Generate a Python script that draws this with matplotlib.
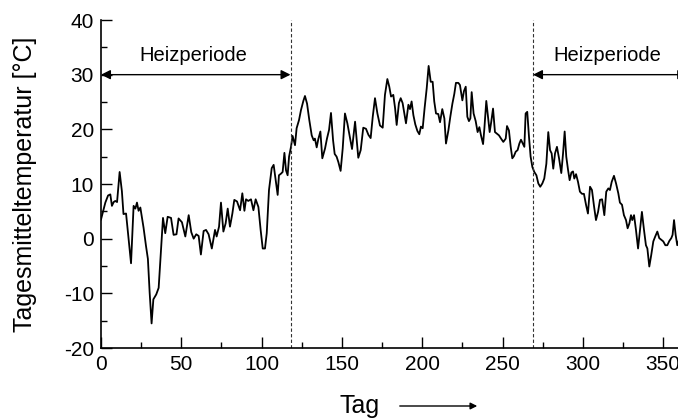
import matplotlib
matplotlib.use("Agg")
import matplotlib.pyplot as plt
from matplotlib.ticker import MultipleLocator

plt.rcParams['font.family'] = ['Liberation Sans', 'DejaVu Sans']
plt.rcParams['axes.unicode_minus'] = False

tag = [0, 2.7, 4.4, 5.8, 6.8, 7.9, 8.9, 10, 11.6, 13, 14, 15.6, 17, 18.7, 20.3, 21.4, 22.4, 23.4, 24.5,
       26.5, 28, 29.2, 30.3, 31.5, 32.6, 34.4, 35.9, 37.5, 38.6, 40, 41.5, 43.6, 45.2, 47, 48.3, 50.4,
       52.5, 54.6, 56.2, 57.7, 59.3, 60.8, 62.2, 63.9, 65.4, 67, 69, 71, 72, 73.5, 74.7, 76.2, 77.6,
       78.9, 80.3, 81.8, 83, 84.7, 86.6, 88, 89.3, 90.3, 91.7, 93.4, 94.9, 96.3, 98, 99.4, 100.7, 102.1,
       103.2, 104.6, 106.3, 107.5, 108.8, 110, 110.8, 112.1, 113.1, 114.2, 115.2, 116.2, 117.1, 118.3,
       119.3, 120.8, 121.8, 123.3, 124.5, 126, 127, 128.3, 129.7, 131.2, 132.4, 133.2, 134.3, 135.3,
       136.6, 137.8, 139.5, 140.7, 142, 143.2, 144.5, 145.5, 146.7, 147.8, 149.2, 150.5, 151.9, 153.4,
       155.1, 156.3, 158.2, 160.2, 161.7, 163.3, 165, 166.5, 167.9, 169.2, 170.6, 172.1, 173.7, 175.4,
       176.8, 178.3, 179.5, 180.6, 182, 183.1, 184.1, 185.5, 186.6, 187.8, 188.7, 189.9, 191.4, 192.4,
       193.4, 194.5, 195.7, 197, 198.2, 199.2, 200.3, 201.5, 202.8, 204, 205.3, 206.5, 207.5, 208.6,
       210, 211.1, 212.5, 213.8, 214.8, 216.3, 217.5, 218.8, 220, 221, 222.5, 223.5, 225, 226, 227.1,
       228.1, 229.1, 230, 230.8, 232, 233.3, 234.5, 235.6, 236.6, 237.9, 238.7, 239.9, 241, 242, 243,
       244.1, 245.3, 246.6, 247.8, 249.1, 250.5, 252, 252.8, 254, 255.1, 256.1, 257.1, 258.2, 259.4,
       260.5, 261.5, 262.5, 263.6, 264.4, 265.4, 266.5, 267.5, 268.6, 269.8, 271.1, 272.3, 273.5,
       274.8, 276, 277.3, 278.5, 279.6, 280.6, 281.6, 282.7, 283.9, 285.2, 286.6, 287.7, 288.7, 289.7,
       290.8, 291.8, 292.9, 293.9, 294.7, 295.8, 297, 298.2, 299.5, 300.7, 302, 303.2, 304.5, 305.7,
       307, 308.2, 309.5, 310.7, 312, 313.4, 314.6, 315.9, 316.9, 318, 319.4, 320.7, 322.1, 323.1,
       324.4, 325.6, 326.9, 327.9, 329, 330, 330.8, 331.9, 333.1, 334.4, 335.6, 336.8, 338.1, 339.3,
       340.2, 341.4, 342.6, 343.9, 345.1, 346.4, 347.6, 348.9, 350.1, 351.4, 352.6, 353.9, 355.1,
       355.9, 356.8, 357.8, 358.8, 359.7]

temp = [3.5, 6.6, 7.9, 8.1, 6.0, 6.7, 6.9, 6.7, 12.2, 8.7, 4.5, 4.6, 0.5, -4.5, 6.0, 5.5, 6.6, 5.1, 5.7,
        2.0, -1.3, -3.7, -9.9, -15.5, -11.1, -10.2, -9.0, -1.3, 3.8, 1.0, 4.0, 3.8, 0.7, 0.8, 3.7, 3.0,
        0.4, 4.3, 1.2, 0.0, 0.8, 0.5, -2.9, 1.4, 1.6, 0.8, -1.8, 1.6, 0.4, 2.2, 6.6, 1.3, 2.8,
        5.5, 2.2, 4.6, 7.1, 6.8, 5.2, 8.3, 5.1, 7.2, 6.9, 7.2, 5.2, 7.2, 5.8, 1.6, -1.8, -1.8,
        1.0, 8.9, 12.9, 13.5, 10.7, 8.0, 11.6, 11.9, 12.2, 15.7, 12.5, 11.6, 15.0, 16.8,
        18.8, 17.1, 20.2, 21.7, 23.5, 25.2, 26.1, 24.7, 21.7, 18.9, 18.0, 18.3, 16.7, 18.2,
        19.6, 14.7, 16.5, 18.3, 19.9, 23.0, 18.0, 15.5, 15.0, 14.0, 12.4, 16.5, 22.9, 21.1,
        18.4, 16.4, 21.4, 14.8, 16.2, 20.3, 20.1, 19.0, 18.4, 22.3, 25.7, 22.9, 20.7, 20.3,
        26.3, 29.2, 27.8, 26.0, 26.3, 23.9, 20.8, 24.8, 25.7, 24.8, 23.2, 21.1, 24.5, 23.7,
        25.1, 22.6, 20.9, 19.7, 19.1, 20.5, 20.2, 23.9, 27.5, 31.6, 28.7, 28.7, 25.1, 22.9,
        22.8, 21.3, 23.7, 22.0, 17.4, 19.8, 22.3, 24.7, 26.5, 28.5, 28.5, 28.1, 25.3, 27.0, 27.8,
        22.3, 21.5, 22.0, 26.8, 22.9, 21.5, 19.5, 20.4, 18.9, 17.3, 20.1, 25.2, 22.3, 19.5, 21.4,
        23.8, 19.5, 19.2, 18.9, 18.3, 17.7, 18.3, 20.6, 19.8, 16.8, 14.7, 15.1, 15.9, 16.2,
        17.4, 18.1, 17.5, 16.8, 22.9, 23.2, 18.6, 15.0, 13.1, 12.2, 11.6, 10.1, 9.5,
        10.1, 11.0, 13.7, 19.5, 16.2, 15.6, 12.8, 15.6, 16.8, 14.7, 12.0, 15.6, 19.6, 15.0,
        12.6, 10.7, 12.1, 12.3, 11.0, 11.8, 10.4, 8.6, 8.2, 8.2, 6.2, 4.6, 9.5, 8.9,
        5.9, 3.4, 4.9, 7.1, 7.2, 4.3, 8.6, 9.2, 8.9, 10.4, 11.5, 10.1, 8.3, 6.6,
        6.2, 4.3, 3.4, 1.9, 2.8, 4.3, 3.4, 4.3, 1.6, -1.8, 1.6, 4.9, 1.6, -1.2,
        -1.8, -5.1, -3.0, -0.5, 0.4, 1.3, 0.1, -0.2, -0.5, -1.2, -1.2, -0.4, 0.1,
        0.7, 3.4, 0.7, -1.2, -0.4]

heiz_ende = 118
heiz_beginn = 269
x_ticks = [0, 50, 100, 150, 200, 250, 300, 350]
y_ticks = [-20, -10, 0, 10, 20, 30, 40]

W, H = 678, 418
fig = plt.figure(figsize=(W / 100, H / 100), dpi=100)
ax = fig.add_axes([101 / W, 70 / H, 586.2 / W, 328 / H])

ax.plot(tag, temp, color='black', lw=1.3, solid_joinstyle='round')

for xv in (heiz_ende, heiz_beginn):
    ax.axvline(xv, color='#333333', lw=0.8, ls=(0, (3, 2)))

arrow_kw = dict(arrowstyle='<|-|>', color='black', lw=1.0, mutation_scale=14,
                shrinkA=0, shrinkB=0)
ax.annotate('', xy=(0, 30), xytext=(heiz_ende, 30), arrowprops=arrow_kw, annotation_clip=False)
ax.annotate('', xy=(heiz_beginn, 30), xytext=(365, 30), arrowprops=arrow_kw, annotation_clip=False)
ax.text(57.5, 31.7, 'Heizperiode', ha='center', va='bottom', fontsize=14.5)
ax.text(315.5, 31.7, 'Heizperiode', ha='center', va='bottom', fontsize=14.5)

ax.set_xlim(0, 365)
ax.set_ylim(-20, 40)
ax.set_xticks(x_ticks)
ax.set_yticks(y_ticks)
ax.xaxis.set_minor_locator(MultipleLocator(25))
ax.yaxis.set_minor_locator(MultipleLocator(5))
ax.tick_params(which='major', direction='in', length=8, width=1.0, labelsize=15, pad=5)
ax.tick_params(which='minor', direction='in', length=4, width=1.0)
for s in ('top', 'right'):
    ax.spines[s].set_visible(False)
for s in ('left', 'bottom'):
    ax.spines[s].set_linewidth(1.2)

ax.set_ylabel('Tagesmitteltemperatur [°C]', fontsize=18, labelpad=19)

fig.text(360 / W, 1 - 406 / H, 'Tag', ha='center', va='center', fontsize=18)
fig.add_artist(matplotlib.patches.FancyArrowPatch(
    (397 / W, 1 - 406 / H), (480 / W, 1 - 406 / H), transform=fig.transFigure,
    arrowstyle='-|>', mutation_scale=10, color='black', lw=1.0))

fig.savefig('out.png', dpi=100)
